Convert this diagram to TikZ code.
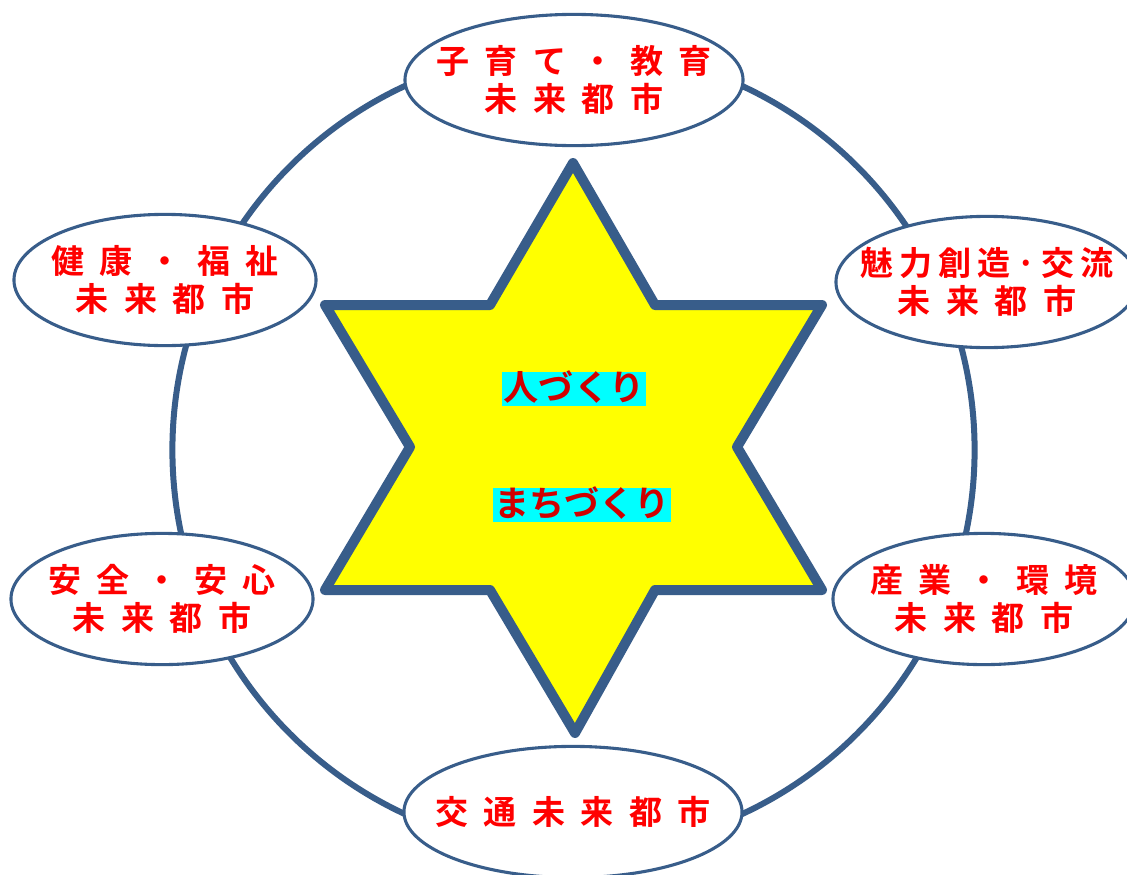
\documentclass[tikz,border=0pt]{standalone}
\usepackage{fontspec}
\usetikzlibrary{shapes.geometric}
\newfontfamily\jp[LetterSpace=47]{Noto Sans CJK JP Bold}
\newfontfamily\jpn[LetterSpace=18]{Noto Sans CJK JP Bold}
\newfontfamily\jpc{Noto Sans CJK JP Bold}
\definecolor{ringblue}{HTML}{385D8A}
\definecolor{cityred}{HTML}{FF0000}
\definecolor{corered}{HTML}{D00000}
\definecolor{starfill}{HTML}{FFFF00}
\definecolor{tagcyan}{HTML}{00FFFF}
\tikzset{
	city/.style={ellipse,draw=ringblue,line width=2.2pt,fill=white,minimum width=7.55cm,minimum height=3.28cm,inner xsep=-1.6cm,inner ysep=-0.8cm,align=center,text=cityred,font=\jp\fontsize{23.5}{27}\selectfont},
	wide/.style={minimum width=8.45cm},
	core/.style={fill=tagcyan,text=corered,inner xsep=1pt,inner ysep=0pt,text height=0.72cm,text depth=0.13cm,font=\jpc\fontsize{25}{30}\selectfont}
}
\begin{document}
\begin{tikzpicture}[x=0.025cm,y=-0.025cm]
	\useasboundingbox (0,0) rectangle (1127,875);
	\draw[ringblue,line width=0.15cm] (573.5,450) circle [radius=10.025cm];
	\draw[ringblue,line width=0.25cm,line join=round,fill=starfill] (573,163) -- (655,305) -- (822,305) -- (737,447) -- (822,590) -- (655,590) -- (575,733) -- (490,590) -- (325,590) -- (410,447) -- (325,305) -- (490,305) -- cycle;
	\node[core] (hito) at (574,389) {人づくり};
	\node[core] (machi) at (582,505) {まちづくり};
	\node[city,wide] (kosodate) at (574,80) {子育て・教育\\未来都市};
	\node[city] (kenko) at (165,280) {健康・福祉\\未来都市};
	\node[city] (miryoku) at (987,282) {{\jpn 魅力創造·交流}\\未来都市};
	\node[city] (anzen) at (162,599) {安全・安心\\未来都市};
	\node[city] (sangyo) at (984,599) {産業・環境\\未来都市};
	\node[city,wide] (kotsu) at (573,812) {交通未来都市};
\end{tikzpicture}
\end{document}
